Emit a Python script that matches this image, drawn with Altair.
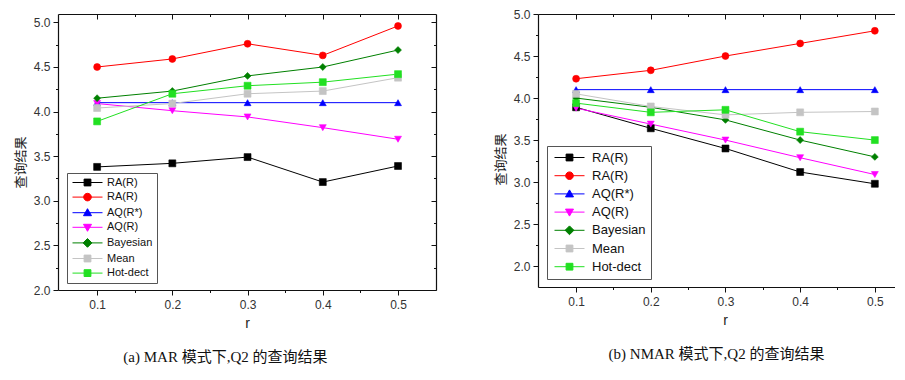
import altair as alt
import pandas as pd

# ---------------- data ----------------
R_VALUES = [0.1, 0.2, 0.3, 0.4, 0.5]
SERIES_IDS = ["s0", "s1", "s2", "s3", "s4", "s5", "s6"]
SERIES_NAMES = ["RA(R)", "RA(R)", "AQ(R*)", "AQ(R)", "Bayesian", "Mean", "Hot-dect"]
SERIES_COLORS = ["#000000", "#ff0000", "#0000ff", "#ff00ff", "#008000", "#c4c4c4", "#22e022"]
MARKER_SHAPES = ["square", "circle", "triangle-up", "triangle-down", "diamond", "square", "square"]

# (a) MAR
MAR_RA_BLACK = [3.38, 3.42, 3.49, 3.21, 3.39]
MAR_RA_RED = [4.50, 4.59, 4.76, 4.63, 4.96]
MAR_AQ_STAR = [4.10, 4.10, 4.10, 4.10, 4.10]
MAR_AQ_R = [4.09, 4.01, 3.94, 3.82, 3.69]
MAR_BAYES = [4.15, 4.23, 4.40, 4.50, 4.69]
MAR_MEAN = [4.04, 4.09, 4.20, 4.23, 4.38]
MAR_HOT = [3.89, 4.20, 4.29, 4.33, 4.42]

# (b) NMAR
NMAR_RA_BLACK = [3.89, 3.64, 3.40, 3.12, 2.98]
NMAR_RA_RED = [4.23, 4.33, 4.50, 4.65, 4.80]
NMAR_AQ_STAR = [4.10, 4.10, 4.10, 4.10, 4.10]
NMAR_AQ_R = [3.88, 3.69, 3.50, 3.29, 3.09]
NMAR_BAYES = [4.00, 3.89, 3.74, 3.50, 3.30]
NMAR_MEAN = [4.05, 3.90, 3.80, 3.83, 3.84]
NMAR_HOT = [3.94, 3.83, 3.86, 3.60, 3.50]

X_MAJOR = [0.1, 0.2, 0.3, 0.4, 0.5]
X_MINOR = [0.15, 0.25, 0.35, 0.45]
Y_MAJOR = [2.0, 2.5, 3.0, 3.5, 4.0, 4.5, 5.0]
Y_MINOR = [2.25, 2.75, 3.25, 3.75, 4.25, 4.75]

CAPTION_A = "(a) MAR 模式下,Q2 的查询结果"
CAPTION_B = "(b) NMAR 模式下,Q2 的查询结果"
Y_TITLE = "查询结果"
X_TITLE = "r"

# legend symbols: a line with the marker in the middle (custom SVG paths)
LEGEND_PATHS = {
    "square": "M-1,0H6.5M1.9,-0.85H3.6V0.85H1.9Z",
    "circle": "M-1,0H6.5M3.7,0A0.95,0.95,0,1,1,1.8,0A0.95,0.95,0,1,1,3.7,0Z",
    "triangle-up": "M-1,0H6.5M2.75,-1L3.75,0.75H1.75Z",
    "triangle-down": "M-1,0H6.5M2.75,1L3.75,-0.75H1.75Z",
    "diamond": "M-1,0H6.5M2.75,-1.1L3.85,0L2.75,1.1L1.65,0Z",
}


def long_table(series):
    rows = []
    for sid, vals in zip(SERIES_IDS, series):
        for r, v in zip(R_VALUES, vals):
            rows.append({"r": r, "v": v, "sid": sid})
    return pd.DataFrame(rows)


df_a = long_table([MAR_RA_BLACK, MAR_RA_RED, MAR_AQ_STAR, MAR_AQ_R, MAR_BAYES, MAR_MEAN, MAR_HOT])
df_b = long_table([NMAR_RA_BLACK, NMAR_RA_RED, NMAR_AQ_STAR, NMAR_AQ_R, NMAR_BAYES, NMAR_MEAN, NMAR_HOT])

names_js = "[" + ",".join("'" + n + "'" for n in SERIES_NAMES) + "]"
ids_js = "[" + ",".join("'" + s + "'" for s in SERIES_IDS) + "]"
LABEL_EXPR = f"{names_js}[indexof({ids_js}, datum.value)]"

LABEL_FONT = "Liberation Sans, Arial, sans-serif"
CJK_FONT = "Noto Sans CJK SC"
CAPTION_FONT = "Liberation Serif, Noto Sans CJK SC"


def panel(df, xdom, ydom, W, H, leg, caption, frame, right_frame, x_title_x, y_title_y):
    xs = alt.Scale(domain=xdom, nice=False, zero=False)
    ys = alt.Scale(domain=ydom, nice=False, zero=False)
    color_scale = alt.Scale(domain=SERIES_IDS, range=SERIES_COLORS)
    base = alt.Chart(df)
    common = dict(grid=False, tickColor="#111", domainColor="#111", tickWidth=1, domainWidth=1.2)

    def X(**kw):
        return alt.X("r:Q", scale=xs, axis=alt.Axis(**common, **kw))

    def Y(**kw):
        return alt.Y("v:Q", scale=ys, axis=alt.Axis(**common, **kw))

    x_none = alt.X("r:Q", scale=xs, axis=None)
    y_none = alt.Y("v:Q", scale=ys, axis=None)

    legend = alt.Legend(
        title=None, orient="none", legendX=leg["x"], legendY=leg["y"],
        labelExpr=LABEL_EXPR, labelFont=LABEL_FONT, labelFontSize=leg["font"], labelColor="#111",
        labelOffset=leg["labelOffset"], rowPadding=leg["rowPadding"], padding=leg["padding"],
        symbolSize=64, symbolStrokeWidth=1, symbolFillColor="#ffffff", symbolStrokeColor="#000000",
        strokeColor="#555", fillColor="#ffffff",
    )
    shape_range = [LEGEND_PATHS[s] for s in MARKER_SHAPES]

    layers = []
    # legend holder first (no data drawn)
    layers.append(
        base.transform_filter("false").mark_point(filled=True, opacity=1).encode(
            x=x_none, y=y_none,
            fill=alt.Fill("sid:N", scale=color_scale, legend=legend),
            stroke=alt.Stroke("sid:N", scale=color_scale, legend=legend),
            shape=alt.Shape("sid:N", scale=alt.Scale(domain=SERIES_IDS, range=shape_range), legend=legend),
        )
    )
    # lines with main axes
    layers.append(
        base.mark_line(strokeWidth=1).encode(
            x=X(orient="bottom", values=X_MAJOR, format=".1f", tickSize=5,
                labelFont=LABEL_FONT, labelFontSize=12, labelColor="#333", labelPadding=4,
                title=X_TITLE, titleFont=LABEL_FONT, titleFontSize=14, titleFontWeight="normal",
                titleColor="#222", titlePadding=6, titleX=x_title_x),
            y=Y(orient="left", values=Y_MAJOR, format=".1f", tickSize=5,
                labelFont=LABEL_FONT, labelFontSize=12, labelColor="#333", labelPadding=3,
                title=Y_TITLE, titleFont=CJK_FONT, titleFontSize=13, titleFontWeight="normal",
                titleColor="#222", titlePadding=6, titleY=y_title_y),
            stroke=alt.Stroke("sid:N", scale=color_scale, legend=legend),
        )
    )
    # markers
    for sid, shape in zip(SERIES_IDS, MARKER_SHAPES):
        layers.append(
            base.transform_filter(alt.datum.sid == sid)
            .mark_point(shape=shape, filled=True, size=48, opacity=1, strokeWidth=0.6)
            .encode(
                x=x_none, y=y_none,
                fill=alt.Fill("sid:N", scale=color_scale, legend=legend),
                stroke=alt.Stroke("sid:N", scale=color_scale, legend=legend),
            )
        )
    holder = base.mark_point(opacity=0)
    # minor ticks bottom / left (outward)
    layers.append(holder.encode(x=X(orient="bottom", values=X_MINOR, tickSize=2.5, labels=False, domain=False, title=None), y=y_none))
    layers.append(holder.encode(x=x_none, y=Y(orient="left", values=Y_MINOR, tickSize=2.5, labels=False, domain=False, title=None)))
    # top frame with inward ticks
    layers.append(holder.encode(x=X(orient="bottom", offset=-H, values=X_MAJOR, tickSize=5, labels=False, domain=True, title=None), y=y_none))
    layers.append(holder.encode(x=X(orient="bottom", offset=-H, values=X_MINOR, tickSize=2.5, labels=False, domain=False, title=None), y=y_none))
    if right_frame:
        layers.append(holder.encode(x=x_none, y=Y(orient="left", offset=-W, values=Y_MAJOR, tickSize=5, labels=False, domain=True, title=None)))
        layers.append(holder.encode(x=x_none, y=Y(orient="left", offset=-W, values=Y_MINOR, tickSize=2.5, labels=False, domain=False, title=None)))

    return (
        alt.layer(*layers)
        .resolve_axis(x="independent", y="independent")
        .properties(
            width=W, height=H,
            title=alt.TitleParams(text=caption, orient="bottom", anchor="middle", frame=frame,
                                  font=CAPTION_FONT, fontSize=15, fontWeight="normal",
                                  color="#111", offset=20),
        )
    )


left = panel(
    df_a, xdom=[0.048, 0.5505], ydom=[2.0, 5.094], W=378, H=276,
    leg={"x": 9, "y": 159, "font": 11, "labelOffset": 25, "rowPadding": 2.6, "padding": 4},
    caption=CAPTION_A, frame="bounds", right_frame=True, x_title_x=189, y_title_y=148,
)
right = panel(
    df_b, xdom=[0.049, 0.527], ydom=[1.752, 5.0], W=357, H=273,
    leg={"x": 9, "y": 132, "font": 13, "labelOffset": 27, "rowPadding": 4.2, "padding": 5},
    caption=CAPTION_B, frame="group", right_frame=False, x_title_x=187, y_title_y=145,
)

chart = (
    alt.hconcat(left, right, spacing=57)
    .resolve_scale(fill="independent", stroke="independent", shape="independent")
    .properties(padding={"left": 6, "top": 0, "right": 0, "bottom": 0}, background="#ffffff")
    .configure_view(stroke=None)
)

chart.save("out.html", embed_options={"renderer": "svg", "actions": False})
